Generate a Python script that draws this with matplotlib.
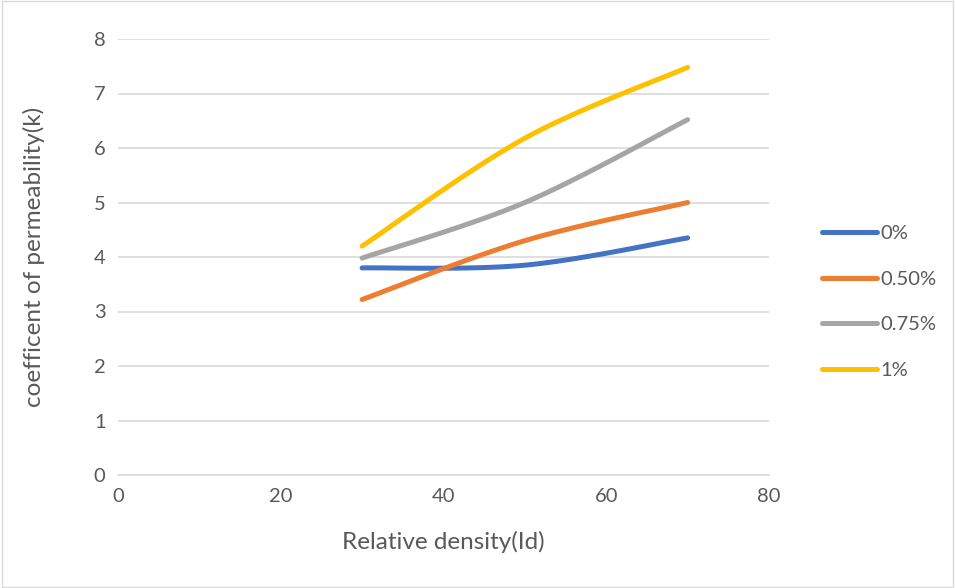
import matplotlib
matplotlib.use("Agg")
import matplotlib.pyplot as plt
import numpy as np

# data
density = [30, 50, 70]
k_0 = [3.80, 3.85, 4.35]
k_050 = [3.22, 4.30, 5.00]
k_075 = [3.98, 5.00, 6.52]
k_1 = [4.20, 6.18, 7.48]

labels = ["0%", "0.50%", "0.75%", "1%"]
colors = ["#4472C4", "#ED7D31", "#A5A5A5", "#FFC000"]


def smooth(x, y, n=40):
    # Excel-like smoothed line: cubic Bezier through the points
    p = np.column_stack([x, y]).astype(float)
    out = []
    for i in range(len(p) - 1):
        p_prev = p[i - 1] if i > 0 else p[i]
        p_next = p[i + 2] if i + 2 < len(p) else p[i + 1]
        c1 = p[i] + (p[i + 1] - p_prev) / 6
        c2 = p[i + 1] - (p_next - p[i]) / 6
        t = np.linspace(0, 1, n)[:, None]
        seg = ((1 - t) ** 3 * p[i] + 3 * (1 - t) ** 2 * t * c1
               + 3 * (1 - t) * t ** 2 * c2 + t ** 3 * p[i + 1])
        out.append(seg if i == 0 else seg[1:])
    s = np.vstack(out)
    return s[:, 0], s[:, 1]


def main():
    plt.rcParams["font.family"] = ["Lato", "DejaVu Sans"]
    fig = plt.figure(figsize=(9.55, 5.88), dpi=100)
    ax = fig.add_axes([118 / 955, 1 - 475 / 588, (769 - 118) / 955, (475 - 39) / 588])

    for ys, lab, col in zip([k_0, k_050, k_075, k_1], labels, colors):
        sx, sy = smooth(density, ys)
        ax.plot(sx, sy, color=col, lw=3.6, solid_capstyle="round", label=lab)

    ax.set_xlim(0, 80)
    ax.set_ylim(0, 8)
    ax.set_xticks(range(0, 81, 20))
    ax.set_yticks(range(0, 9))
    ax.grid(axis="y", color="#D9D9D9", lw=1.2)
    ax.set_axisbelow(True)
    for s in ["top", "right", "left"]:
        ax.spines[s].set_visible(False)
    ax.spines["bottom"].set_color("#D9D9D9")
    ax.spines["bottom"].set_linewidth(1.2)
    ax.tick_params(length=0, labelsize=14.5, colors="#595959", pad=9)

    ax.set_xlabel("Relative density(Id)", fontsize=17.5, color="#595959", labelpad=19)
    ax.set_ylabel("coefficent of permeability(k)", fontsize=17.5, color="#595959", labelpad=35)

    ax.legend(loc="center left", bbox_to_anchor=(822 / 955, 1 - 302 / 588),
              bbox_transform=fig.transFigure, frameon=False,
              borderaxespad=0, borderpad=0,
              fontsize=14.5, labelcolor="#595959", handlelength=2.75,
              handletextpad=0.15, labelspacing=1.42)

    fig.patches.append(plt.Rectangle((0.002, 0.002), 0.996, 0.996, transform=fig.transFigure,
                                     fill=False, edgecolor="#D9D9D9", lw=1))
    fig.savefig("out.png", dpi=100)


main()
